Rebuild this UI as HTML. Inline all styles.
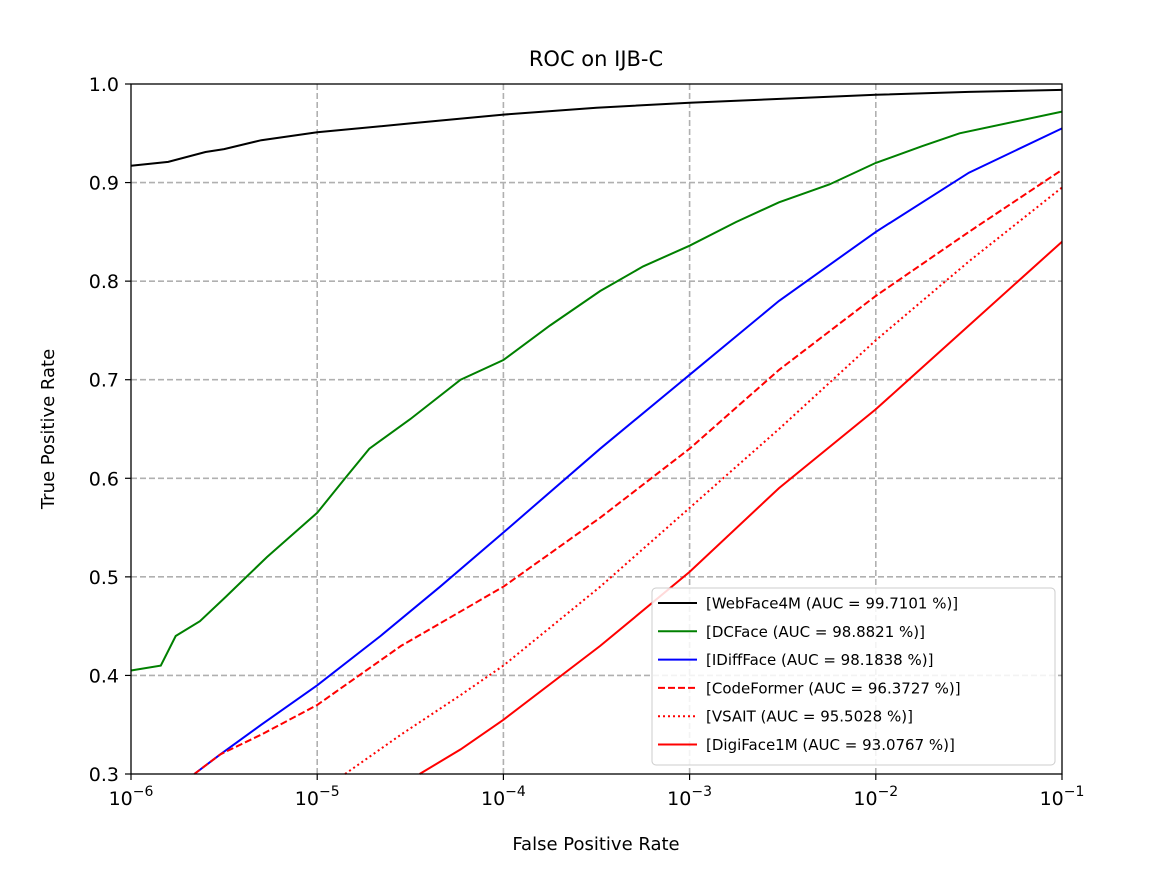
<!DOCTYPE html>
<html><head><meta charset="utf-8"><style>
body{margin:0;background:#fff;}
svg{font-family:"DejaVu Sans","Liberation Sans",sans-serif;}
</style></head><body>
<svg id="chart" width="1157" height="866" xmlns="http://www.w3.org/2000/svg">
<text x="596" y="66" font-size="21" text-anchor="middle">ROC on IJB-C</text>
<g id="grid"></g><g id="series"></g><g id="axes"></g><g id="legend"></g>
<text x="596" y="850" font-size="18" text-anchor="middle">False Positive Rate</text>
<text transform="translate(54,429) rotate(-90)" font-size="18" text-anchor="middle">True Positive Rate</text>
</svg>
<script>
// x values are log10(FPR)
const seriesNames=["WebFace4M (AUC = 99.7101 %)","DCFace (AUC = 98.8821 %)","IDiffFace (AUC = 98.1838 %)","CodeFormer (AUC = 96.3727 %)","VSAIT (AUC = 95.5028 %)","DigiFace1M (AUC = 93.0767 %)"];
const webX=[-6,-5.8,-5.6,-5.5,-5.3,-5,-4.5,-4,-3.5,-3,-2.5,-2,-1.5,-1];
const webY=[0.917,0.921,0.931,0.934,0.943,0.951,0.96,0.969,0.976,0.981,0.985,0.989,0.992,0.994];
const dcX=[-6,-5.84,-5.76,-5.63,-5.49,-5.38,-5.27,-5.15,-5,-4.85,-4.72,-4.5,-4.23,-4,-3.75,-3.48,-3.25,-3,-2.75,-2.52,-2.25,-2,-1.75,-1.55,-1];
const dcY=[0.405,0.41,0.44,0.455,0.48,0.5,0.52,0.54,0.565,0.6,0.63,0.66,0.70,0.72,0.755,0.79,0.815,0.836,0.86,0.88,0.898,0.92,0.937,0.95,0.972];
const idX=[-5.66,-5.52,-5.3,-5,-4.66,-4.34,-4,-3.48,-3,-2.52,-2,-1.5,-1];
const idY=[0.3,0.32,0.35,0.39,0.44,0.49,0.545,0.63,0.705,0.78,0.85,0.91,0.955];
const cfX=[-5.66,-5.52,-5.3,-5,-4.55,-4,-3.48,-3,-2.52,-2,-1.5,-1];
const cfY=[0.3,0.32,0.34,0.37,0.43,0.49,0.56,0.63,0.71,0.785,0.85,0.913];
const vsX=[-4.85,-4.55,-4.23,-4,-3.48,-3,-2.52,-2,-1.5,-1];
const vsY=[0.3,0.34,0.38,0.41,0.49,0.57,0.65,0.74,0.82,0.895];
const dgX=[-4.45,-4.23,-4,-3.48,-3,-2.52,-2,-1.5,-1];
const dgY=[0.3,0.325,0.355,0.43,0.505,0.59,0.67,0.755,0.84];
const xTicks=[-6,-5,-4,-3,-2,-1];
const yTicks=[0.3,0.4,0.5,0.6,0.7,0.8,0.9,1.0];
const L=131,R=1062,T=84,B=774;
const sx=v=>L+(v+6)/5*(R-L);
const sy=v=>B-(v-0.3)/0.7*(B-T);
const NS="http://www.w3.org/2000/svg";
function mk(tag,attrs,parent){const e=document.createElementNS(NS,tag);for(const k in attrs)e.setAttribute(k,attrs[k]);parent.appendChild(e);return e;}
const grid=document.getElementById('grid'),axes=document.getElementById('axes'),ser=document.getElementById('series'),leg=document.getElementById('legend');
xTicks.forEach(t=>{
 const x=sx(t);
 if(t>-6&&t<-1){const g=mk('line',{x1:x,x2:x,y1:T,y2:B,stroke:'#b0b0b0','stroke-width':1.6,'stroke-dasharray':'6,3'},grid);
 
 }
 mk('line',{x1:x,x2:x,y1:B,y2:B+6,stroke:'#000','stroke-width':1.2},axes);
 const tx=mk('text',{x:x,y:B+31,'font-size':19,'text-anchor':'middle'},axes);
 
 
 tx.innerHTML='10<tspan dy="-9" font-size="14">\u2212'+(-t)+'</tspan>';
});
yTicks.forEach(t=>{
 const y=sy(t);
 if(t>0.3&&t<1){const g=mk('line',{x1:L,x2:R,y1:y,y2:y,stroke:'#b0b0b0','stroke-width':1.6,'stroke-dasharray':'6,3'},grid);
 
 }
 mk('line',{x1:L-6,x2:L,y1:y,y2:y,stroke:'#000','stroke-width':1.2},axes);
 const tx=mk('text',{x:L-12,y:y+7,'font-size':19,'text-anchor':'end'},axes);
 
 
 tx.textContent=t.toFixed(1);
});
const fr=mk('rect',{x:L,y:T,width:R-L,height:B-T,fill:'none',stroke:'#000','stroke-width':1.3},axes);


const styles=[['#000',''],['green',''],['blue',''],['red','7,3'],['red','2,3'],['red','']];
const data=[[webX,webY],[dcX,dcY],[idX,idY],[cfX,cfY],[vsX,vsY],[dgX,dgY]];
const ids=['webface4m','dcface','idiffface','codeformer','vsait','digiface1m'];
data.forEach((d,i)=>{
 const pts=d[0].map((x,j)=>sx(x).toFixed(1)+','+sy(d[1][j]).toFixed(1)).join(' ');
 const p=mk('polyline',{points:pts,fill:'none',stroke:styles[i][0],'stroke-width':2,'stroke-dasharray':styles[i][1]},ser);
 
 
});
const lb=mk('rect',{x:652,y:588,width:403,height:177,rx:4,fill:'#fff','fill-opacity':0.85,stroke:'#ccc'},leg);


seriesNames.forEach((n,i)=>{
 const y=603+i*28.3;
 const g=mk('g',{},leg);
 
 
 mk('line',{x1:658,x2:697,y1:y,y2:y,stroke:styles[i][0],'stroke-width':2,'stroke-dasharray':styles[i][1]},g);
 const t=mk('text',{x:706,y:y+5.5,'font-size':15},g);
 t.textContent='['+n+']';
});
</script>
</body></html>
